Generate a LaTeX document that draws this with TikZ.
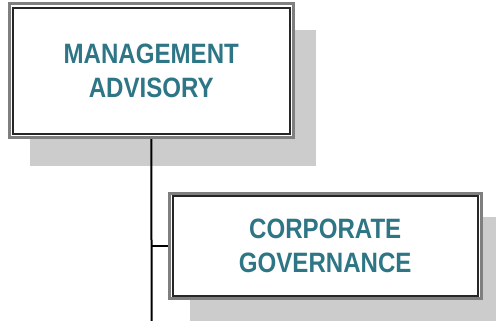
\documentclass[tikz,border=0pt]{standalone}
\usepackage{fontspec}
\usepackage{graphicx}
\setmainfont{Liberation Sans}
\usetikzlibrary{calc}
\definecolor{txtcol}{HTML}{2E7686}
\definecolor{shadowgray}{HTML}{CCCCCC}
\definecolor{outergray}{HTML}{7F7F7F}
\definecolor{innerdark}{HTML}{262626}
\newcommand{\narrowtxt}[1]{\scalebox{0.86}[1]{#1}}
\tikzset{
  outerbox/.style={draw=outergray, line width=3pt, fill=white, rectangle, inner sep=0pt,
    text=txtcol, font=\bfseries\fontsize{28}{34}\selectfont, align=center},
  innerline/.style={draw=innerdark, line width=2pt},
  conn/.style={draw=black, line width=2pt},
  shadowfill/.style={fill=shadowgray}
}
\begin{document}
\begin{tikzpicture}[x=1pt,y=-1pt]
\useasboundingbox (0,0) rectangle (496,321);
% shadows
\fill[shadowfill] (30,30) rectangle (316,166);
\fill[shadowfill] (190,217) rectangle (496,321);
\coordinate (bottom) at (151.7,321);
% boxes
\node[outerbox, minimum width=283.5pt, minimum height=134.2pt] (box1) at (151.25,70.6) {\narrowtxt{MANAGEMENT}\\\narrowtxt{ADVISORY}};
\draw[innerline] ($(box1.north west)+(4.7,6.5)$) rectangle ($(box1.south east)+(-4.3,-4.7)$);
\node[outerbox, minimum width=311.5pt, minimum height=105pt] (box2) at (325.25,245.5) {\narrowtxt{CORPORATE}\\\narrowtxt{GOVERNANCE}};
\draw[innerline] ($(box2.north west)+(4.5,4.7)$) rectangle ($(box2.south east)+(-5,-4)$);
\draw[conn] (box1.south) -- (bottom);
\draw[conn] (box2.west -| box1.south) -- (box2.west);
\end{tikzpicture}
\end{document}
